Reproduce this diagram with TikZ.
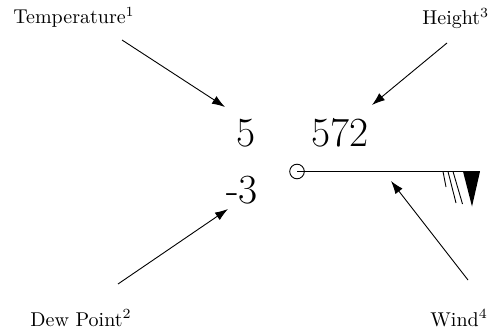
\documentclass[tikz,border=0pt]{standalone}
\usetikzlibrary{arrows.meta}
\begin{document}
\begin{tikzpicture}[x=0.5pt,y=-0.5pt,
  lbl/.style={inner sep=0pt,anchor=base west,font=\normalsize},
  num/.style={inner sep=0pt,anchor=base,font=\huge},
  ptr/.style={-{Latex[length=6.5pt,width=4.5pt]},line width=0.45pt},
  barb/.style={line width=0.45pt}]
\useasboundingbox (0,0) rectangle (491,331);
% labels
\node[lbl] (temp) at (13,24) {Temperature$^1$};
\node[lbl] (hgt) at (422,25) {Height$^3$};
\node[lbl] (dew) at (30,326) {Dew Point$^2$};
\node[lbl] (wnd) at (430,326) {Wind$^4$};
% values
\node[num] (t) at (246,147) {5};
\node[num] (h) at (340,147) {572};
\node[num] (d) at (242,203) {-3};
% station circle and wind shaft
\node[circle,draw,minimum size=7.3pt,inner sep=0pt,line width=0.45pt] (stn) at (297,171.5) {};
\coordinate (shaftend) at (480,171.5);
\draw[barb] (stn.center) -- (shaftend);
\fill (463,171.5) -- (shaftend) -- (472,206.5) -- cycle;
\draw[barb] (443,171.5) -- (446,187);
\draw[barb] (448,171.5) -- (456,203);
\draw[barb] (453,171.5) -- (462.5,204);
% pointers
\coordinate (ta) at (122,40);
\coordinate (tb) at (225,107);
\coordinate (ha) at (447,43);
\coordinate (hb) at (372,105);
\coordinate (da) at (118,284);
\coordinate (db) at (228,209);
\coordinate (wa) at (468,280);
\coordinate (wb) at (391,181);
\draw[ptr] (ta) -- (tb);
\draw[ptr] (ha) -- (hb);
\draw[ptr] (da) -- (db);
\draw[ptr] (wa) -- (wb);
\end{tikzpicture}
\end{document}
